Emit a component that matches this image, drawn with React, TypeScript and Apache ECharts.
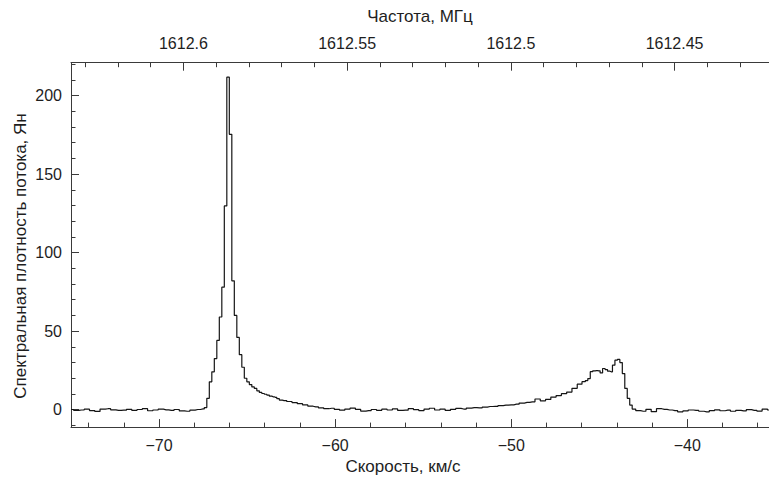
import React, { useEffect, useRef } from "react";
import * as echarts from "echarts";

// ---- constants of the chart ----
const REST_FREQ_MHZ = 1612.231;
const LIGHT_SPEED_KMS = 299792.458;
const V_MIN = -75;
const V_MAX = -35.36;
const FLUX_MIN = -11.1;
const FLUX_MAX = 220.9;

// ---- tick steps (labels at -70 … -40, 0 … 200, 1612.6 … 1612.45) ----
const velocityStep = 10;
const fluxStep = 50;
const freqStep = 0.05;
const minorSplits = 5;

// ---- axis titles ----
const velocityTitle = "Скорость, км/с";
const freqTitle = "Частота, МГц";
const fluxTitle = "Спектральная плотность потока, Ян";

// ---- spectrum: [velocity km/s, flux density Jy] ----
const baselineLeft: [number, number][] = [
  [-75.0, 0.1], [-74.7, -0.4], [-74.4, -0.2], [-74.1, 0.3], [-73.8, -0.6], [-73.5, -1.1],
  [-73.2, 0.4], [-72.9, 0.6], [-72.6, -0.1], [-72.3, -0.5], [-72.0, -0.3], [-71.7, 0.2],
  [-71.4, -0.4], [-71.1, 0.1], [-70.8, 0.6], [-70.5, -0.7], [-70.2, -0.2], [-69.9, 0.3],
  [-69.6, -0.1], [-69.3, -0.5], [-69.0, 0.1], [-68.7, -0.8], [-68.4, -1.0], [-68.1, -0.3],
  [-67.8, 0.1], [-67.5, 0.5],
];
const bluePeak: [number, number][] = [
  [-67.358, 1.3], [-67.216, 7.2], [-67.074, 17.7], [-66.932, 24.1], [-66.79, 32.5],
  [-66.648, 44.1], [-66.506, 59], [-66.364, 78], [-66.222, 129.7], [-66.08, 211.7],
  [-65.938, 175.3], [-65.796, 82], [-65.654, 60], [-65.512, 46], [-65.37, 35],
  [-65.228, 27], [-65.086, 20], [-64.944, 17.7], [-64.802, 16], [-64.66, 14.5],
  [-64.518, 13.5], [-64.376, 12], [-64.234, 11], [-64.092, 10.3], [-63.95, 9.8],
  [-63.808, 9.3], [-63.666, 8.6], [-63.524, 8.2], [-63.382, 7.8], [-63.24, 7.0],
  [-63.098, 6.1],
];
const middle: [number, number][] = [
  [-62.9, 5.8], [-62.6, 5.2], [-62.3, 4.5], [-62.0, 3.8], [-61.7, 3.0], [-61.4, 2.2],
  [-61.1, 1.8], [-60.8, 1.2], [-60.5, 0.6], [-60.2, 0.9], [-59.9, 0.2], [-59.6, -0.3],
  [-59.3, 0.4], [-59.0, 1.0], [-58.7, 0.2], [-58.4, -0.9], [-58.1, -0.6], [-57.8, 0.1],
  [-57.5, -0.4], [-57.2, 0.3], [-56.9, -0.2], [-56.6, 0.5], [-56.3, -0.5], [-56.0, -0.3],
  [-55.7, 0.6], [-55.4, 0.0], [-55.1, -0.6], [-54.8, 0.4], [-54.5, 0.9], [-54.2, -0.2],
  [-53.9, 0.3], [-53.6, -0.5], [-53.3, 0.2], [-53.0, 0.8], [-52.7, 0.4], [-52.4, 1.0],
  [-52.1, 1.3], [-51.8, 1.1], [-51.5, 1.6], [-51.2, 2.0], [-50.9, 2.1], [-50.6, 2.6],
  [-50.3, 2.9], [-50.0, 3.1], [-49.7, 3.5], [-49.4, 4.2], [-49.1, 4.6], [-48.8, 5.0],
  [-48.5, 6.8], [-48.2, 5.6], [-47.9, 6.5], [-47.6, 8.0], [-47.3, 9.0], [-47.0, 10.2],
  [-46.7, 11.2], [-46.4, 13.6], [-46.1, 16.2], [-45.86, 17.8],
];
const redPeak: [number, number][] = [
  [-45.72, 18.5], [-45.58, 19.8], [-45.44, 24.2], [-45.3, 24.7], [-45.16, 24.8],
  [-45.02, 24.7], [-44.88, 23.4], [-44.74, 26.2], [-44.6, 25.5], [-44.46, 24.5],
  [-44.32, 24.1], [-44.18, 28.3], [-44.04, 31.5], [-43.9, 32.0], [-43.76, 30.0],
  [-43.62, 23.0], [-43.48, 13.5], [-43.34, 7.2], [-43.2, 2.9], [-43.06, 0.4],
];
const baselineRight: [number, number][] = [
  [-42.8, -0.6], [-42.5, -1.0], [-42.2, 0.2], [-41.9, -1.3], [-41.6, 0.6], [-41.3, 0.2],
  [-41.0, -0.2], [-40.7, -0.6], [-40.4, -1.4], [-40.1, -0.8], [-39.8, -0.2], [-39.5, -0.5],
  [-39.2, -1.0], [-38.9, -1.4], [-38.6, -0.6], [-38.3, -0.1], [-38.0, -0.7], [-37.7, -0.3],
  [-37.4, -1.0], [-37.1, -0.4], [-36.8, -0.8], [-36.5, 0.0], [-36.2, -0.4], [-35.9, -0.9],
  [-35.6, 0.4], [-35.3, -0.2],
];

const spectrum = [...baselineLeft, ...bluePeak, ...middle, ...redPeak, ...baselineRight];

const freqAt = (v: number) => REST_FREQ_MHZ * (1 - v / LIGHT_SPEED_KMS);

const FONT = '"Liberation Sans", Arial, sans-serif';
const TEXT_COLOR = "#1e1e1e";
const AXIS_COLOR = "#3a3a3a";
const fmtMinus = (v: number) => (v < 0 ? "\u2212" + Math.abs(v) : String(v));

export default function App() {
  const ref = useRef<HTMLDivElement>(null);
  useEffect(() => {
    document.body.style.margin = "0";
    if (!ref.current) return;
    const chart = echarts.init(ref.current, undefined, { renderer: "svg" });
    const lineStyle = { color: AXIS_COLOR, width: 1 };
    const labelBase = {
      color: TEXT_COLOR,
      fontFamily: FONT,
      fontSize: 16,
      showMinLabel: false,
      showMaxLabel: false,
    };
    const nameStyle = { color: TEXT_COLOR, fontFamily: FONT, fontSize: 17 };
    const majorTick = { show: true, inside: true, length: 8, lineStyle };
    const minorTick = { show: true, splitNumber: minorSplits, length: 4.5, lineStyle };
    chart.setOption({
      animation: false,
      backgroundColor: "#ffffff",
      grid: { left: 71, right: 0, top: 62.7, bottom: 50.7, containLabel: false },
      graphic: [
        {
          type: "text",
          x: 20,
          y: 256,
          rotation: Math.PI / 2,
          style: {
            text: fluxTitle,
            fill: TEXT_COLOR,
            fontFamily: FONT,
            fontSize: 17,
            align: "center",
            verticalAlign: "middle",
          },
        },
      ],
      xAxis: [
        {
          type: "value",
          position: "bottom",
          min: V_MIN,
          max: V_MAX,
          splitNumber: Math.round((V_MAX - V_MIN) / velocityStep),
          minInterval: velocityStep,
          maxInterval: velocityStep,
          name: velocityTitle,
          nameLocation: "middle",
          nameGap: 29,
          nameTextStyle: { ...nameStyle, padding: [0, 34, 0, 0] },
          axisLine: { show: true, onZero: false, lineStyle },
          axisTick: majorTick,
          minorTick,
          axisLabel: { ...labelBase, margin: 10, formatter: fmtMinus },
          splitLine: { show: false },
          minorSplitLine: { show: false },
        },
        {
          type: "value",
          position: "top",
          inverse: true,
          min: freqAt(V_MAX),
          max: freqAt(V_MIN),
          minInterval: freqStep,
          maxInterval: freqStep,
          name: freqTitle,
          nameLocation: "middle",
          nameGap: 38,
          nameTextStyle: nameStyle,
          axisLine: { show: true, onZero: false, lineStyle },
          axisTick: majorTick,
          minorTick,
          axisLabel: { ...labelBase, margin: 11, formatter: (v: number) => String(+v.toFixed(3)) },
          splitLine: { show: false },
          minorSplitLine: { show: false },
        },
      ],
      yAxis: [
        {
          type: "value",
          position: "left",
          min: FLUX_MIN,
          max: FLUX_MAX,
          minInterval: fluxStep,
          maxInterval: fluxStep,
          axisLine: { show: true, onZero: false, lineStyle },
          axisTick: majorTick,
          minorTick,
          axisLabel: { ...labelBase, margin: 9 },
          splitLine: { show: false },
          minorSplitLine: { show: false },
        },
      ],
      series: [
        {
          type: "line",
          xAxisIndex: 0,
          yAxisIndex: 0,
          step: "middle",
          symbol: "none",
          data: spectrum,
          lineStyle: { color: "#151515", width: 1.2 },
          clip: true,
        },
      ],
    });
    return () => chart.dispose();
  }, []);
  return <div ref={ref} style={{ width: 769, height: 480 }} />;
}
